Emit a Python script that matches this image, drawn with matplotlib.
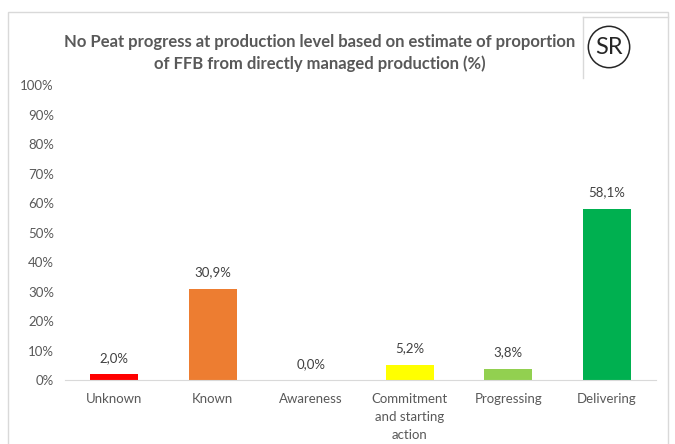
"""No Peat progress bar chart."""
import matplotlib
matplotlib.use("Agg")
import matplotlib.pyplot as plt
from matplotlib.patches import Circle, Rectangle
from matplotlib.lines import Line2D

categories = ["Unknown", "Known", "Awareness", "Commitment\nand starting\naction",
              "Progressing", "Delivering"]
values = [2.0, 30.9, 0.0, 5.2, 3.8, 58.1]
colors = ["#FF0000", "#ED7D31", "#FFC000", "#FFFF00", "#92D050", "#00B050"]
yticks = list(range(0, 101, 10))

plt.rcParams["font.family"] = ["Lato", "DejaVu Sans"]
TXT = "#595959"

fig = plt.figure(figsize=(6.75, 4.44), dpi=100)
W, H = 675, 444

# outer frame + SR box
fig.add_artist(Rectangle((8 / W, -0.01), 660 / W, (H - 12) / H + 0.01,
                         transform=fig.transFigure, fill=False, ec="#D9D9D9", lw=1))
fig.add_artist(Line2D([583 / W, 583 / W], [1 - 78 / H, 1 - 17 / H],
                      transform=fig.transFigure, color="#D9D9D9", lw=1))
fig.add_artist(Line2D([583 / W, 668 / W], [1 - 17 / H, 1 - 17 / H],
                      transform=fig.transFigure, color="#D9D9D9", lw=1))
ax_sr = fig.add_axes([587 / W, 1 - 69 / H, 44 / W, 44 / H])
ax_sr.set_xlim(0, 1); ax_sr.set_ylim(0, 1); ax_sr.axis("off")
ax_sr.add_patch(Circle((0.5, 0.5), 0.47, fill=False, ec="#262626", lw=1.1))
ax_sr.text(0.5, 0.48, "SR", ha="center", va="center", fontsize=17, color="#262626")

fig.text(320 / W, 1 - 42 / H,
         "No Peat progress at production level based on estimate of proportion",
         ha="center", va="center", fontsize=12, fontweight="bold", color=TXT)
fig.text(320 / W, 1 - 64 / H, "of FFB from directly managed production (%)",
         ha="center", va="center", fontsize=12, fontweight="bold", color=TXT)

ax = fig.add_axes([65 / W, (H - 380) / H, 591 / W, 295 / H])
x = range(len(categories))
bars = ax.bar(x, values, width=0.49, color=colors, zorder=2)
for xi, v in zip(x, values):
    ax.text(xi, v + 3.5, f"{v:.1f}%".replace(".", ","), ha="center", va="bottom",
            fontsize=9.5, color="#404040")
ax.set_xlim(-0.5, len(categories) - 0.5)
ax.set_ylim(0, 100)
ax.set_yticks(yticks)
ax.set_yticklabels([f"{t}%" for t in yticks])
ax.set_xticks(list(x))
ax.set_xticklabels(categories, va="top", linespacing=1.6)
ax.tick_params(axis="both", length=0, labelsize=9.5, colors=TXT)
ax.tick_params(axis="x", pad=9)
ax.tick_params(axis="y", pad=8)
for s in ["top", "right", "left"]:
    ax.spines[s].set_visible(False)
ax.spines["bottom"].set_color("#D9D9D9")

fig.savefig("out.png", dpi=100)
